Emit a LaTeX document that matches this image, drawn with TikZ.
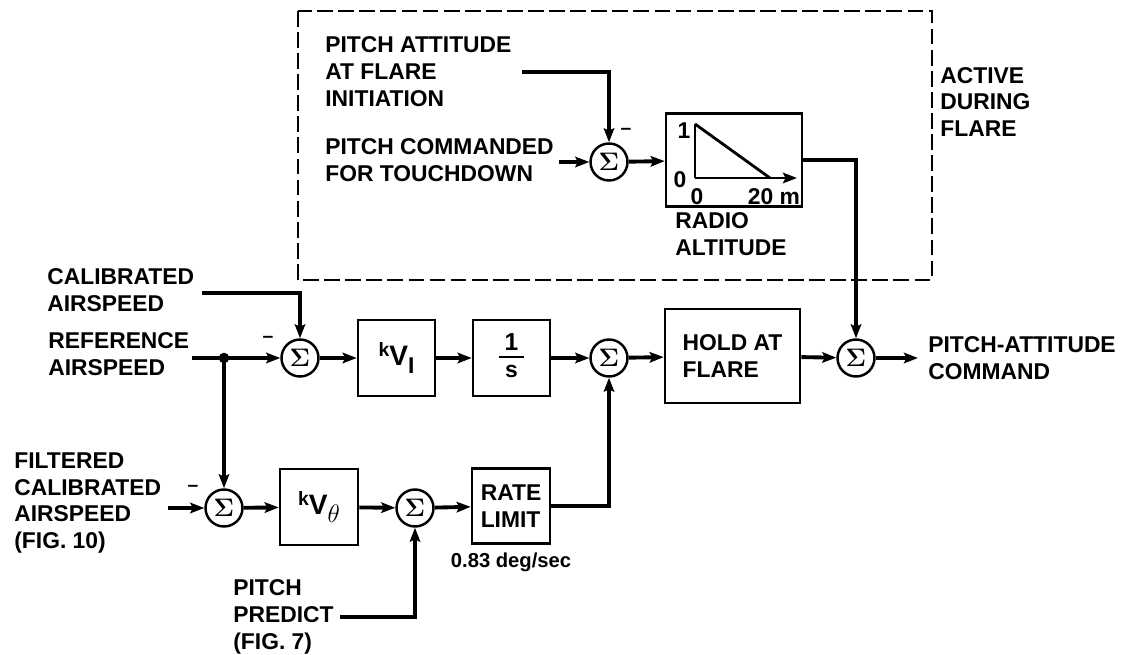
\documentclass[tikz,border=0pt]{standalone}
\usepackage{fontspec}
\setmainfont{Liberation Sans}
\usetikzlibrary{arrows.meta}
\begin{document}
\begin{tikzpicture}[x=0.02cm,y=-0.02cm,
  lbl/.style={font=\fontsize{13}{15.3}\selectfont\bfseries, align=left, inner sep=0pt, anchor=west},
  sumnode/.style={circle, draw, line width=1.4pt, minimum size=0.74cm, inner sep=0pt, font=\fontsize{15}{15}\selectfont\boldmath},
  blk/.style={draw, line width=1.5pt, inner sep=0pt, font=\fontsize{13}{15.3}\selectfont\bfseries, align=left},
  sig/.style={line width=2.2pt, -{Stealth[length=8pt,width=6pt,inset=1.5pt]}},
  minus/.style={inner sep=0pt, font=\bfseries\fontsize{11}{11}\selectfont}
]
\useasboundingbox (0,0) rectangle (1125,655);

% dashed flare region
\draw[line width=1.6pt, dash pattern=on 9pt off 3pt] (298,11) rectangle (932,280);

% sums
\node[sumnode] (ts) at (609,162) {$\Sigma$};
\node[sumnode] (s2) at (300,358) {$\Sigma$};
\node[sumnode] (s3) at (609,358) {$\Sigma$};
\node[sumnode] (sf) at (856,358) {$\Sigma$};
\node[sumnode] (ls1) at (224,508) {$\Sigma$};
\node[sumnode] (ls2) at (415,508) {$\Sigma$};

% blocks
\node[blk, minimum width=2.72cm, minimum height=1.86cm] (radio) at (734,160) {};
\node[blk, minimum width=1.54cm, minimum height=1.52cm, font=\fontsize{16}{16}\selectfont\bfseries] (kvi) at (396.5,358)
  {\raisebox{5pt}{\fontsize{11}{11}\selectfont k}V\raisebox{-5pt}{\fontsize{13}{13}\selectfont$\mathbf{I}$}};
\node[blk, minimum width=1.54cm, minimum height=1.52cm] (ones) at (511.5,358) {};
\node[blk, minimum width=2.7cm, minimum height=1.88cm] (hold) at (732.5,356) {HOLD AT\\FLARE};
\node[blk, minimum width=1.56cm, minimum height=1.52cm, font=\fontsize{16}{16}\selectfont\bfseries] (kvt) at (319,507)
  {\raisebox{5pt}{\fontsize{11}{11}\selectfont k}V\raisebox{-5pt}{\fontsize{14}{14}\selectfont$\theta$}};
\node[blk, minimum width=1.56cm, minimum height=1.5cm, inner sep=1pt] (rate) at (511,506) {RATE\\LIMIT};

% 1/s
\node[inner sep=0pt, font=\fontsize{14}{14}\selectfont\bfseries] (one) at (511.5,342) {1};
\draw[line width=1.5pt] (499,357) -- (524,357);
\node[inner sep=0pt, font=\fontsize{13}{13}\selectfont\bfseries] (ess) at (511.5,371) {s};

% radio altitude graph
\draw[line width=1.6pt] (695,124) -- (695,178);
\draw[line width=1.6pt] (695,124) -- (770,178);
\draw[line width=1.6pt, -{Stealth[length=8pt,width=6pt,inset=1.5pt]}] (695,178) -- (797,178);
\node[inner sep=0pt, font=\fontsize{13}{13}\selectfont\bfseries] (g1) at (684,131) {1};
\node[inner sep=0pt, font=\fontsize{13}{13}\selectfont\bfseries] (g0) at (680,180) {0};
\node[inner sep=0pt, font=\fontsize{13}{13}\selectfont\bfseries] (gx0) at (697,197) {0};
\node[inner sep=0pt, font=\fontsize{13}{13}\selectfont\bfseries] (gx20) at (774,197) {20 m};

% labels
\node[lbl] (pa) at (325,72) {PITCH ATTITUDE\\AT FLARE\\INITIATION};
\node[lbl] (pc) at (325,160) {PITCH COMMANDED\\FOR TOUCHDOWN};
\node[lbl] (ra) at (675,234) {RADIO\\ALTITUDE};
\node[lbl] (adf) at (940,102) {ACTIVE\\DURING\\FLARE};
\node[lbl] (cal) at (47,290) {CALIBRATED\\AIRSPEED};
\node[lbl] (ref) at (48,354) {REFERENCE\\AIRSPEED};
\node[lbl] (fil) at (14,503) {FILTERED\\CALIBRATED\\AIRSPEED\\(FIG. 10)};
\node[lbl] (pp) at (233,617) {PITCH\\PREDICT\\(FIG. 7)};
\node[lbl] (pac) at (928,358) {PITCH-ATTITUDE\\COMMAND};
\node[inner sep=0pt, font=\fontsize{11.5}{11.5}\selectfont\bfseries] (rl) at (511,562) {0.83 deg/sec};

% minus signs
\node[minus] (m1) at (626,131) {–};
\node[minus] (m2) at (268,339) {–};
\node[minus] (m3) at (193,488) {–};

% coordinates
\coordinate (paE) at (522,72);
\coordinate (pcE) at (559,162);
\coordinate (calE) at (202,293);
\coordinate (refE) at (192,358);
\coordinate (j) at (224,358);
\coordinate (filE) at (168,508);
\coordinate (ppE) at (340,617);
\coordinate (outE) at (918,358);

% connectors
\draw[sig] (paE) -| (ts);
\draw[sig] (pcE) -- (ts);
\draw[sig] (ts) -- (radio);
\draw[sig] (radio.east) -| (sf);
\draw[sig] (calE) -| (s2);
\draw[sig] (refE) -- (s2);
\fill (j) circle (3pt);
\draw[sig] (j) -- (ls1);
\draw[sig] (s2) -- (kvi);
\draw[sig] (kvi) -- (ones);
\draw[sig] (ones) -- (s3);
\draw[sig] (s3) -- (hold);
\draw[sig] (hold) -- (sf);
\draw[sig] (sf) -- (outE);
\draw[sig] (filE) -- (ls1);
\draw[sig] (ls1) -- (kvt);
\draw[sig] (kvt) -- (ls2);
\draw[sig] (ls2) -- (rate);
\draw[sig] (rate.east) -| (s3);
\draw[sig] (ppE) -| (ls2);
\end{tikzpicture}
\end{document}
